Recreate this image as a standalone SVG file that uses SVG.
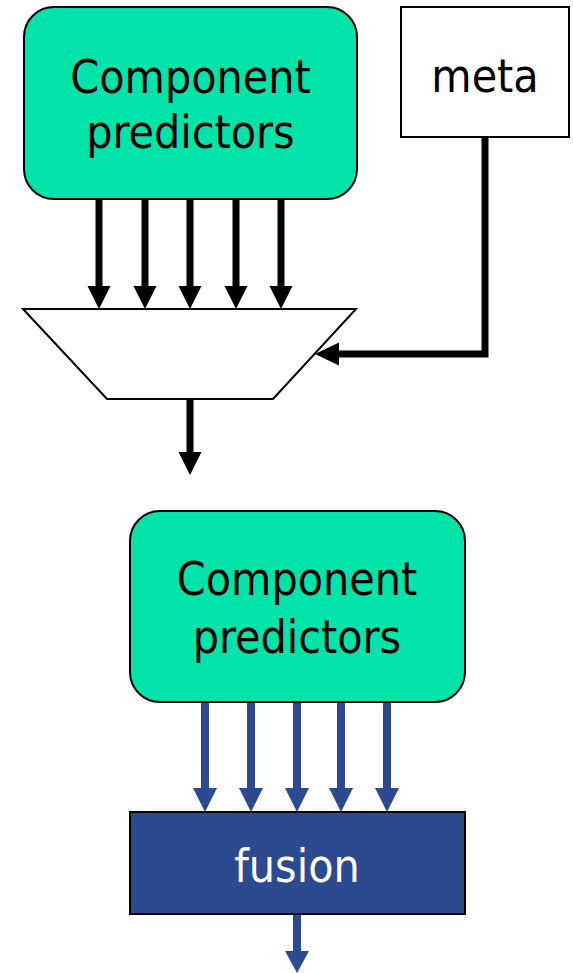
<svg xmlns="http://www.w3.org/2000/svg" width="573" height="973" viewBox="0 0 573 973">
<defs>
<style>
.lbl{font-family:"DejaVu Sans Condensed","DejaVu Sans",sans-serif;font-size:46px;text-anchor:middle}
.green{fill:#00E4AA;stroke:#000;stroke-width:2}
.blk{stroke:#000;stroke-width:7;fill:none}
.blu{stroke:#2B4A8F;stroke-width:8;fill:none}
.hk{fill:#000}
.hb{fill:#2B4A8F}
</style>
</defs>
<rect width="573" height="973" fill="#fff"/>
<g id="connectors">
<path class="blk" d="M99,199 V287"/><polygon class="hk" points="87.5,286 110.5,286 99,309"/>
<path class="blk" d="M145,199 V287"/><polygon class="hk" points="133.5,286 156.5,286 145,309"/>
<path class="blk" d="M190,199 V287"/><polygon class="hk" points="178.5,286 201.5,286 190,309"/>
<path class="blk" d="M236,199 V287"/><polygon class="hk" points="224.5,286 247.5,286 236,309"/>
<path class="blk" d="M281,199 V287"/><polygon class="hk" points="269.5,286 292.5,286 281,309"/>
<path class="blk" d="M485,137 V354 H338" stroke-linejoin="miter"/><polygon class="hk" points="339,342.5 339,365.5 315,354"/>
<path class="blk" d="M190,399 V453"/><polygon class="hk" points="178.5,452 201.5,452 190,475"/>
<path class="blu" d="M205,702 V789"/><polygon class="hb" points="193,788 217,788 205,812"/>
<path class="blu" d="M251,702 V789"/><polygon class="hb" points="239,788 263,788 251,812"/>
<path class="blu" d="M297,702 V789"/><polygon class="hb" points="285,788 309,788 297,812"/>
<path class="blu" d="M341,702 V789"/><polygon class="hb" points="329,788 353,788 341,812"/>
<path class="blu" d="M387,702 V789"/><polygon class="hb" points="375,788 399,788 387,812"/>
<path class="blu" d="M297,914 V952"/><polygon class="hb" points="285,951 309,951 297,973"/>
</g>
<g id="predictors1">
<rect class="green" x="24" y="7" width="333" height="192" rx="30"/>
<text class="lbl" x="190.5" y="93">Component</text>
<text class="lbl" x="190.5" y="148">predictors</text>
</g>
<g id="meta">
<rect x="401" y="7" width="168" height="130" fill="#fff" stroke="#000" stroke-width="2"/>
<text class="lbl" x="485" y="92">meta</text>
</g>
<g id="selector">
<polygon points="23,309 356,309 273,399 107,399" fill="#fff" stroke="#000" stroke-width="2"/>
</g>
<g id="predictors2">
<rect class="green" x="130" y="511" width="335" height="191" rx="30"/>
<text class="lbl" x="297" y="595">Component</text>
<text class="lbl" x="297" y="653">predictors</text>
</g>
<g id="fusion">
<rect x="130" y="812" width="335" height="102" fill="#2B4A8F" stroke="#000" stroke-width="2"/>
<text class="lbl" x="297" y="882" fill="#fff">fusion</text>
</g>
</svg>
